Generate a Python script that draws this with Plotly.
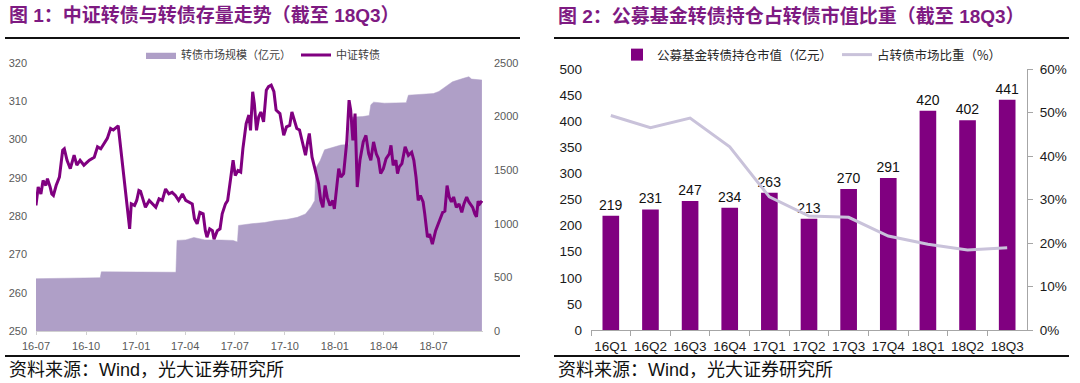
import plotly.graph_objects as go

# ---------------- Figure 1 data ----------------
cb_dates = [
    "2016-07-01","2016-07-05","2016-07-10","2016-07-14","2016-07-19","2016-07-22","2016-07-27","2016-07-30",
    "2016-08-02","2016-08-07","2016-08-13","2016-08-19","2016-08-22","2016-08-27",
    "2016-09-02","2016-09-09","2016-09-14","2016-09-20","2016-09-27",
    "2016-10-07","2016-10-16","2016-10-22","2016-10-28",
    "2016-11-03","2016-11-09","2016-11-15","2016-11-20","2016-11-29",
    "2016-12-04","2016-12-08","2016-12-16","2016-12-20","2016-12-23","2016-12-29",
    "2017-01-02","2017-01-06","2017-01-09","2017-01-12","2017-01-18","2017-01-25","2017-01-31",
    "2017-02-06","2017-02-12","2017-02-18","2017-02-24",
    "2017-03-02","2017-03-08","2017-03-14","2017-03-20","2017-03-27",
    "2017-04-02","2017-04-08","2017-04-14","2017-04-18","2017-04-23","2017-04-28",
    "2017-05-04","2017-05-08","2017-05-11","2017-05-16","2017-05-21","2017-05-24","2017-05-30",
    "2017-06-04","2017-06-08","2017-06-14","2017-06-18","2017-06-23","2017-06-28",
    "2017-07-02","2017-07-07","2017-07-12","2017-07-16","2017-07-22","2017-07-27","2017-07-30",
    "2017-08-03","2017-08-06","2017-08-10","2017-08-14","2017-08-18","2017-08-23","2017-08-28",
    "2017-09-01","2017-09-06","2017-09-11","2017-09-15","2017-09-22","2017-09-29",
    "2017-10-04","2017-10-10","2017-10-14","2017-10-18","2017-10-23","2017-10-28",
    "2017-11-02","2017-11-08","2017-11-12","2017-11-15","2017-11-20","2017-11-23","2017-11-28",
    "2017-12-02","2017-12-06","2017-12-10","2017-12-14","2017-12-18","2017-12-23","2017-12-28","2017-12-31",
    "2018-01-03","2018-01-08","2018-01-12","2018-01-17","2018-01-23","2018-01-27","2018-01-30",
    "2018-02-03","2018-02-07","2018-02-11","2018-02-16","2018-02-22","2018-02-27",
    "2018-03-04","2018-03-08","2018-03-13","2018-03-18","2018-03-22","2018-03-26","2018-03-31",
    "2018-04-05","2018-04-11","2018-04-14","2018-04-18","2018-04-23","2018-04-26","2018-04-29",
    "2018-05-04","2018-05-10","2018-05-16","2018-05-22","2018-05-26","2018-05-30",
    "2018-06-03","2018-06-07","2018-06-12","2018-06-15","2018-06-20","2018-06-24","2018-06-29",
    "2018-07-05","2018-07-12","2018-07-18","2018-07-22","2018-07-26","2018-07-30",
    "2018-08-03","2018-08-07","2018-08-12","2018-08-17","2018-08-22","2018-08-26","2018-08-31",
    "2018-09-04","2018-09-11","2018-09-15","2018-09-18","2018-09-21","2018-09-24","2018-09-28",
]
cb_index = [
    282.8,287.6,285.8,289.3,288.0,289.8,287.6,285.8,
    285.4,288.0,290.2,297.2,297.6,294.6,
    292.4,295.9,293.3,294.6,293.3,
    294.6,295.4,298.1,297.6,
    299.0,300.3,302.9,302.5,303.6,
    297.2,291.1,280.2,276.7,283.2,282.8,
    284.1,286.7,286.5,284.9,282.3,284.1,283.2,
    282.3,284.5,284.1,287.1,
    285.8,286.2,285.4,284.1,285.8,
    284.1,283.7,283.2,279.3,278.0,281.0,
    280.6,276.2,274.5,276.7,276.2,274.0,276.2,
    276.7,280.6,283.2,284.1,289.3,294.6,
    290.6,291.9,291.5,297.6,304.2,306.4,302.4,
    312.5,309.4,302.4,305.9,307.2,304.6,312.9,
    313.8,314.2,312.5,307.7,306.8,301.1,
    303.3,303.7,307.2,305.5,302.9,302.5,
    299.8,295.9,299.4,301.6,295.4,293.7,291.1,
    288.5,284.1,282.3,288.0,284.9,282.8,284.1,281.9,
    285.8,292.4,290.2,291.1,299.8,310.3,307.7,
    299.8,306.8,287.6,294.6,299.4,301.1,
    296.3,294.6,299.4,296.3,295.0,291.1,292.4,
    295.0,296.3,298.5,293.3,294.6,291.1,292.8,
    293.7,298.1,295.9,296.7,294.6,290.2,
    284.1,285.4,283.7,280.6,274.5,275.3,272.7,
    276.2,278.8,281.0,281.3,288.0,285.0,
    283.7,285.0,282.3,283.2,281.0,283.2,285.0,
    283.7,282.3,280.6,279.8,283.9,283.2,284.0,
]
size_dates = [
    "2016-07-01","2016-07-31","2016-08-02","2016-10-27","2016-10-29",
    "2017-03-15","2017-03-17","2017-04-02","2017-04-17","2017-05-07",
    "2017-06-06","2017-06-28","2017-07-06","2017-07-08","2017-07-31",
    "2017-08-25","2017-09-14","2017-10-04","2017-10-24","2017-11-08",
    "2017-11-18","2017-11-25","2017-11-27","2017-12-05","2017-12-13",
    "2017-12-28","2018-01-12","2018-01-26","2018-01-29","2018-02-21",
    "2018-03-05","2018-03-08","2018-03-13","2018-04-02","2018-05-12",
    "2018-05-16","2018-07-01","2018-07-11","2018-07-23","2018-08-05",
    "2018-08-25","2018-09-04","2018-09-09","2018-09-28",
]
size_values = [
    488,490,495,497,552,
    548,845,850,872,850,
    848,845,830,985,1000,
    1012,1030,1040,1060,1092,
    1155,1217,1520,1590,1690,
    1710,1735,1740,1995,2000,
    2010,2110,2135,2125,2130,
    2200,2215,2235,2280,2325,
    2357,2372,2350,2341,
]
month_ticks = ["2016-07-01","2016-10-01","2017-01-01","2017-04-01","2017-07-01",
               "2017-10-01","2018-01-01","2018-04-01","2018-07-01"]
month_labels = ["16-07","16-10","17-01","17-04","17-07","17-10","18-01","18-04","18-07"]

# ---------------- Figure 2 data ----------------
quarters = ["16Q1","16Q2","16Q3","16Q4","17Q1","17Q2","17Q3","17Q4","18Q1","18Q2","18Q3"]
fund_holdings = [219, 231, 247, 234, 263, 213, 270, 291, 420, 402, 441]
fund_share = [49.3, 46.5, 48.7, 42.1, 30.6, 26.2, 25.9, 21.6, 19.7, 18.4, 18.9]

assert len(cb_dates) == len(cb_index)
assert len(size_dates) == len(size_values)

W, H = 1080, 383
PURPLE = "#800080"
AREA = "#AF9FC7"
LAV = "#C9C2DA"
TITLE_C = "#7E1A82"
FONT = "Liberation Sans, Arial, Noto Sans CJK SC, sans-serif"
CJK = "Noto Sans CJK SC, sans-serif"

def px(x):
    return x / W

def py(y):
    return 1 - y / H

fig = go.Figure()

fig.add_trace(go.Scatter(
    x=size_dates, y=size_values, name="转债市场规模（亿元）", mode="lines",
    line=dict(width=0.5, color=AREA), fill="tozeroy", fillcolor=AREA,
    xaxis="x", yaxis="y", legend="legend"))
fig.add_trace(go.Scatter(
    x=cb_dates, y=cb_index, name="中证转债", mode="lines",
    line=dict(width=3, color=PURPLE),
    xaxis="x", yaxis="y2", legend="legend"))
fig.add_trace(go.Bar(
    x=quarters, y=fund_holdings, name="公募基金转债持仓市值（亿元）",
    marker=dict(color=PURPLE, line=dict(width=0)),
    text=[str(v) for v in fund_holdings], textposition="outside", constraintext="none",
    textfont=dict(size=14, color="#111111", family=FONT), cliponaxis=False,
    xaxis="x2", yaxis="y3", legend="legend2"))
fig.add_trace(go.Scatter(
    x=quarters, y=fund_share, name="占转债市场比重（%）", mode="lines",
    line=dict(width=3, color=LAV),
    xaxis="x2", yaxis="y4", legend="legend2"))

tick_grey = dict(size=11, color="#595959", family=FONT)
tick_dark = dict(size=13.5, color="#1a1a1a", family=FONT)

fig.update_layout(
    width=W, height=H, margin=dict(l=0, r=0, t=0, b=0, autoexpand=False),
    paper_bgcolor="white", plot_bgcolor="rgba(0,0,0,0)",
    font=dict(family=FONT),
    bargap=0.58,
    showlegend=True,
    xaxis=dict(domain=[px(36), px(483)], anchor="y", type="date", automargin=False,
               range=["2016-07-01", "2018-09-30"],
               tickvals=month_ticks, ticktext=month_labels, tickangle=0,
               showgrid=False, zeroline=False, showline=True, linecolor="#D0D0D0",
               ticks="outside", ticklen=3, tickcolor="#D0D0D0", tickfont=tick_grey,
               ticklabelstandoff=2),
    yaxis=dict(domain=[py(331), py(63)], anchor="x", side="right", automargin=False,
               range=[0, 2500], dtick=500, showgrid=False, zeroline=False,
               tickfont=tick_grey, ticklabelstandoff=10),
    yaxis2=dict(overlaying="y", anchor="x", side="left", automargin=False,
                range=[250, 320], dtick=10, showgrid=False, zeroline=False,
                tickfont=tick_grey, ticklabelstandoff=8),
    xaxis2=dict(domain=[px(591), px(1027)], anchor="y3", type="category", automargin=False,
                tickson="boundaries", ticks="outside", ticklen=5, tickcolor="#A6A6A6",
                tickangle=0, showline=True, linecolor="#A6A6A6", showgrid=False,
                tickfont=tick_dark, ticklabelstandoff=4),
    yaxis3=dict(domain=[py(330), py(69)], anchor="x2", range=[0, 500], dtick=50,
                automargin=False, showgrid=False, zeroline=False, tickfont=tick_dark,
                ticklabelstandoff=8),
    yaxis4=dict(overlaying="y3", anchor="x2", side="right", range=[0, 60], dtick=10,
                automargin=False, ticksuffix="%", showgrid=False, zeroline=False,
                showline=True, linecolor="#A6A6A6", ticks="outside", ticklen=5,
                tickcolor="#A6A6A6", tickfont=tick_dark, ticklabelstandoff=4),
    legend=dict(orientation="h", x=px(263), y=py(55), xanchor="center", yanchor="middle",
                font=dict(size=11, color="#404040", family=CJK), itemwidth=30,
                bgcolor="rgba(0,0,0,0)", traceorder="normal"),
    legend2=dict(orientation="h", x=px(812), y=py(55), xanchor="center", yanchor="middle",
                 font=dict(size=12.5, color="#262626", family=CJK), itemwidth=30,
                 bgcolor="rgba(0,0,0,0)", traceorder="normal"),
)

shapes = []
for x0, x1 in [(5, 520), (554, 1069)]:
    shapes.append(dict(type="line", xref="paper", yref="paper", x0=px(x0), x1=px(x1),
                       y0=py(38), y1=py(38), line=dict(color="#111111", width=1.8)))
    shapes.append(dict(type="line", xref="paper", yref="paper", x0=px(x0), x1=px(x1),
                       y0=py(356), y1=py(356), line=dict(color="#111111", width=1.8)))
fig.update_layout(shapes=shapes)

annotations = [
    dict(text="<b>图 1：中证转债与转债存量走势（截至 18Q3）</b>", x=px(7), y=py(16),
         xref="paper", yref="paper", xanchor="left", yanchor="middle", showarrow=False,
         font=dict(size=19, color=TITLE_C, family=FONT)),
    dict(text="<b>图 2：公募基金转债持仓占转债市值比重（截至 18Q3）</b>", x=px(556), y=py(16),
         xref="paper", yref="paper", xanchor="left", yanchor="middle", showarrow=False,
         font=dict(size=19, color=TITLE_C, family=FONT)),
    dict(text="资料来源：Wind，光大证券研究所", x=px(7), y=py(370),
         xref="paper", yref="paper", xanchor="left", yanchor="middle", showarrow=False,
         font=dict(size=18, color="#111111", family=FONT)),
    dict(text="资料来源：Wind，光大证券研究所", x=px(556), y=py(370),
         xref="paper", yref="paper", xanchor="left", yanchor="middle", showarrow=False,
         font=dict(size=18, color="#111111", family=FONT)),
]
fig.update_layout(annotations=annotations)

fig.write_html("out.html", config={"displayModeBar": False},
               post_script="document.body.style.margin='0';")
